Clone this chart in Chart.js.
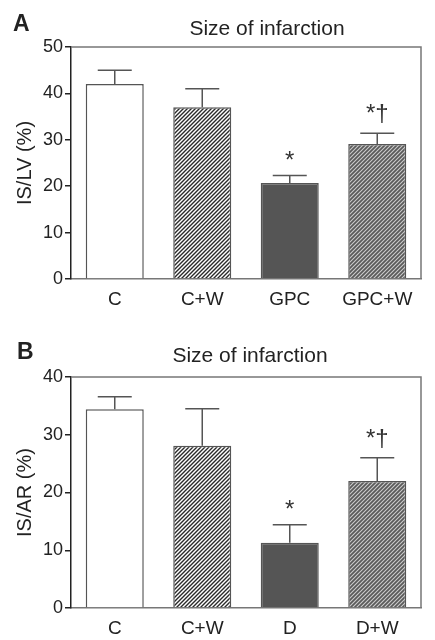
<!DOCTYPE html>
<html>
<head>
<meta charset="utf-8">
<script src="https://cdn.jsdelivr.net/npm/chart.js@4.4.1/dist/chart.umd.min.js"></script>
<style>
  body { margin: 0; background: #fff; }
  canvas { display: block; }
</style>
</head>
<body>
<canvas id="chartA" width="435" height="320"></canvas>
<canvas id="chartB" width="435" height="320"></canvas>
<script>
// panel A data
const categoriesA = ['C', 'C+W', 'GPC', 'GPC+W'];
const valuesA = [42, 37, 20.7, 29.1];
const errorsA = [3, 4, 1.6, 2.3];
const marksA = ['', '', '*', '*\u2020'];
const ticksA = [0, 10, 20, 30, 40, 50];

// panel B data
const categoriesB = ['C', 'C+W', 'D', 'D+W'];
const valuesB = [34.4, 28.1, 11.3, 22.0];
const errorsB = [2.2, 6.4, 3.1, 4.0];
const marksB = ['', '', '*', '*\u2020'];
const ticksB = [0, 10, 20, 30, 40];

const FONT = '"Liberation Sans", Arial, sans-serif';
Chart.defaults.font.family = FONT;
Chart.defaults.color = '#222';

// hatch pattern  ////
function hatch(bg, fg, lw) {
  const c = document.createElement('canvas');
  c.width = 4; c.height = 4;
  const g = c.getContext('2d');
  g.fillStyle = bg;
  g.fillRect(0, 0, 4, 4);
  g.strokeStyle = fg;
  g.lineWidth = lw;
  g.beginPath();
  g.moveTo(-1, 5); g.lineTo(5, -1);
  g.moveTo(-1, 1); g.lineTo(1, -1);
  g.moveTo(3, 5); g.lineTo(5, 3);
  g.stroke();
  return g.createPattern(c, 'repeat');
}

const fills = ['#ffffff', hatch('#ffffff', '#2a2a2a', 1.4), '#555555', hatch('#5a5a5a', '#cccccc', 1.1)];

const extras = {
  id: 'extras',
  afterDraw(chart, args, opts) {
    const ctx = chart.ctx;
    const area = chart.chartArea;
    const y = chart.scales.y;
    const meta = chart.getDatasetMeta(0);
    ctx.save();
    // frame top + right
    ctx.strokeStyle = '#777';
    ctx.lineWidth = 1.5;
    ctx.beginPath();
    ctx.moveTo(area.left, area.top);
    ctx.lineTo(area.right, area.top);
    ctx.lineTo(area.right, area.bottom);
    ctx.stroke();
    // error bars (upper only)
    ctx.strokeStyle = '#555';
    meta.data.forEach((bar, i) => {
      const top = y.getPixelForValue(opts.values[i] + opts.errors[i]);
      ctx.beginPath();
      ctx.moveTo(bar.x, bar.y);
      ctx.lineTo(bar.x, top);
      ctx.moveTo(bar.x - 17, top);
      ctx.lineTo(bar.x + 17, top);
      ctx.stroke();
      const m = opts.marks[i];
      if (m) {
        ctx.fillStyle = '#333';
        ctx.font = '24px ' + FONT;
        ctx.textAlign = 'center';
        ctx.textBaseline = 'alphabetic';
        ctx.fillText(m, bar.x, top - (m.length > 1 ? 12 : 8));
      }
    });
    // title and panel letter
    ctx.fillStyle = '#222';
    ctx.textAlign = 'center';
    ctx.font = '21px ' + FONT;
    ctx.fillText('Size of infarction', opts.titleX, opts.titleY);
    ctx.textAlign = 'left';
    ctx.font = 'bold 23px ' + FONT;
    ctx.fillText(opts.letter, opts.letterX, opts.letterY);
    ctx.restore();
  }
};

function makeChart(id, cats, vals, errs, marks, ticks, yLabel, top, bottom, letter, letterX, letterY, titleX, titleY) {
  return new Chart(document.getElementById(id), {
    type: 'bar',
    data: {
      labels: cats,
      datasets: [{
        data: vals,
        backgroundColor: fills,
        borderColor: '#555',
        borderWidth: 1.5,
        barPercentage: 0.663,
        categoryPercentage: 1
      }]
    },
    options: {
      responsive: false,
      animation: false,
      layout: { padding: { top: top, right: 14, left: 0, bottom: 0 } },
      scales: {
        x: {
          grid: { display: false },
          border: { color: '#777', width: 1.5 },
          ticks: { font: { size: 19 }, padding: 1, color: '#222' },
          afterFit: (s) => { s.height = 320 - bottom; }
        },
        y: {
          min: 0,
          max: ticks[ticks.length - 1],
          afterBuildTicks: (s) => { s.ticks = ticks.map(v => ({ value: v })); },
          grid: { drawOnChartArea: false, color: '#222', tickLength: 6, lineWidth: 1.5 },
          border: { color: '#222', width: 1.5 },
          ticks: { font: { size: 18 }, padding: 2, color: '#222' },
          title: { display: true, text: yLabel, font: { size: 20 }, color: '#222', padding: { top: 13, bottom: 0 } },
          afterFit: (s) => { s.width = 71; }
        }
      },
      plugins: {
        legend: { display: false },
        tooltip: { enabled: false },
        extras: { values: vals, errors: errs, marks: marks, letter: letter, letterX: letterX, letterY: letterY, titleX: titleX, titleY: titleY }
      }
    },
    plugins: [extras]
  });
}

makeChart('chartA', categoriesA, valuesA, errorsA, marksA, ticksA, 'IS/LV (%)', 47, 279, 'A', 13, 31, 267, 35);
makeChart('chartB', categoriesB, valuesB, errorsB, marksB, ticksB, 'IS/AR (%)', 57, 288, 'B', 17, 39, 250, 42);
</script>
</body>
</html>
